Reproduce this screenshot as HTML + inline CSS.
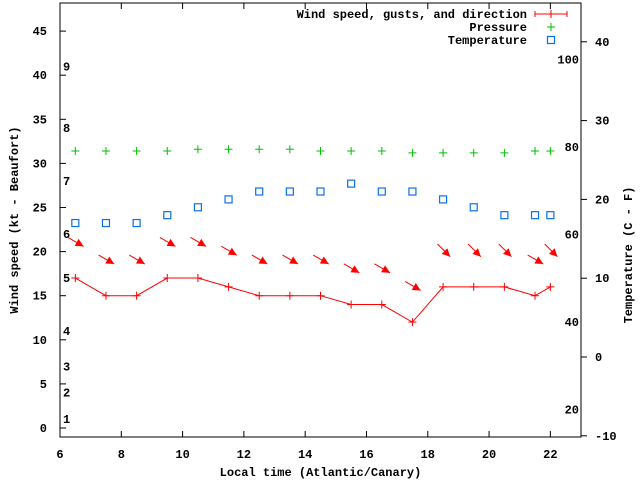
<!DOCTYPE html>
<html><head><meta charset="utf-8"><style>
body{margin:0;background:#fff}
svg{display:block;font-family:"Liberation Mono",monospace;font-size:12px;font-weight:bold}
</style></head><body>
<svg width="640" height="480" id="chart">
<rect width="640" height="480" fill="#fff"/>
</svg>
<script>
const hours=[6.5,7.5,8.5,9.5,10.5,11.5,12.5,13.5,14.5,15.5,16.5,17.5,18.5,19.5,20.5,21.5,22];
const windSpeed=[17,15,15,17,17,16,15,15,15,14,14,12,16,16,16,15,16];
const gustSpeed=[21,19,19,21,21,20,19,19,19,18,18,16,20,20,20,19,20];
const windDir=[300,300,300,300,300,300,300,300,300,300,300,300,315,315,315,300,315];
const pressure=[31.4,31.4,31.4,31.4,31.6,31.6,31.6,31.6,31.4,31.4,31.4,31.2,31.2,31.2,31.2,31.4,31.4];
const tempC=[17,17,17,18,19,20,21,21,21,22,21,21,20,19,18,18,18];
const xTicks=[6,8,10,12,14,16,18,20,22];
const yTicks=[0,5,10,15,20,25,30,35,40,45];
const cTicks=[-10,0,10,20,30,40];
const fTicks=[20,40,60,80,100];
const beaufort=[[1,1],[2,4],[3,7],[4,11],[5,17],[6,22],[7,28],[8,34],[9,41]];
const L=60,R=581,T=3,B=437;
const X=h=>L+(h-6)*(R-L)/17;
const Y=v=>428-v*8.82;
const YC=c=>357-c*7.88;
const YF=f=>YC((f-32)*5/9);
const svg=document.getElementById('chart');
const NS='http://www.w3.org/2000/svg';
function el(tag,attrs,parent){const e=document.createElementNS(NS,tag);for(const k in attrs)e.setAttribute(k,attrs[k]);(parent||svg).appendChild(e);return e;}
function txt(s,x,y,anchor,name){const t=el('text',{x:x,y:y,'text-anchor':anchor||'start'});t.textContent=s;


return t;}
// frame
const fr=el('rect',{x:L,y:T,width:R-L,height:B-T,fill:'none',stroke:'#000','stroke-width':1});


xTicks.forEach(h=>{el('line',{x1:X(h),x2:X(h),y1:B,y2:B-6,stroke:'#000'});el('line',{x1:X(h),x2:X(h),y1:T,y2:T+6,stroke:'#000'});txt(String(h),X(h),458,'middle','x-tick-label');});
yTicks.forEach(v=>{el('line',{x1:L,x2:L+6,y1:Y(v),y2:Y(v),stroke:'#000'});txt(String(v),L-13,Y(v)+4,'end','y-tick-label');});
cTicks.forEach(c=>{el('line',{x1:R,x2:R+6,y1:YC(c),y2:YC(c),stroke:'#000'});txt(String(c),R+14,YC(c)+4,'start','right-tick-label');});
fTicks.forEach(f=>{txt(String(f),R-2,YF(f)+4,'end','fahrenheit-label');});
beaufort.forEach(b=>{txt(String(b[0]),63,Y(b[1])+4,'start','beaufort-label');});
txt('Local time (Atlantic/Canary)',(L+R)/2,476,'middle','x-axis-title');
const yt=txt('Wind speed (kt - Beaufort)',0,0,'middle','y-axis-title');yt.setAttribute('transform','translate(18,220) rotate(-90)');
const rt=txt('Temperature (C - F)',0,0,'middle','right-axis-title');rt.setAttribute('transform','translate(632,255) rotate(-90)');
// wind line
const wp=el('polyline',{points:hours.map((h,i)=>X(h)+','+Y(windSpeed[i])).join(' '),fill:'none',stroke:'#f00','stroke-width':1});


hours.forEach((h,i)=>{const x=X(h),y=Y(windSpeed[i]);
const g=el('path',{d:`M${x-4} ${y}H${x+4}M${x} ${y-4}V${y+4}`,stroke:'#f00'});

});
// arrows
hours.forEach((h,i)=>{const x=X(h)+2,y=Y(gustSpeed[i]);const a=(windDir[i]-270)*Math.PI/180;
const dx=Math.cos(a),dy=Math.sin(a);const len=18;
const x0=x-dx*len*0.6,y0=y-dy*len*0.6,x1=x+dx*len*0.4,y1=y+dy*len*0.4;
const g=el('g',{});


el('line',{x1:x0,y1:y0,x2:x1,y2:y1,stroke:'#f00'},g);
const px=-dy,py=dx;
el('polygon',{points:`${x1},${y1} ${x1-dx*8+px*4},${y1-dy*8+py*4} ${x1-dx*8-px*4},${y1-dy*8-py*4}`,fill:'#f00'},g);});
// pressure
hours.forEach((h,i)=>{const x=X(h),y=Y(pressure[i]);
const g=el('path',{d:`M${x-4} ${y}H${x+4}M${x} ${y-4}V${y+4}`,stroke:'#00c000'});

});
// temperature
hours.forEach((h,i)=>{const x=X(h),y=YC(tempC[i]);
const r=el('rect',{x:x-3.5,y:y-3.5,width:7,height:7,fill:'none',stroke:'#0a70e8','stroke-width':1.2});

});
// legend
const lg=el('g',{});


[['Wind speed, gusts, and direction',14],['Pressure',27],['Temperature',40]].forEach(r=>{const t=txt(r[0],527,r[1]+4,'end','legend-entry');lg.appendChild(t);});
el('path',{d:'M535 14H567M535 11V17M567 11V17M551 10V18',stroke:'#f00'},lg);
el('path',{d:'M547 27H555M551 23V31',stroke:'#00c000'},lg);
el('rect',{x:547.5,y:36.5,width:7,height:7,fill:'none',stroke:'#0a70e8','stroke-width':1.2},lg);
</script>
</body></html>
